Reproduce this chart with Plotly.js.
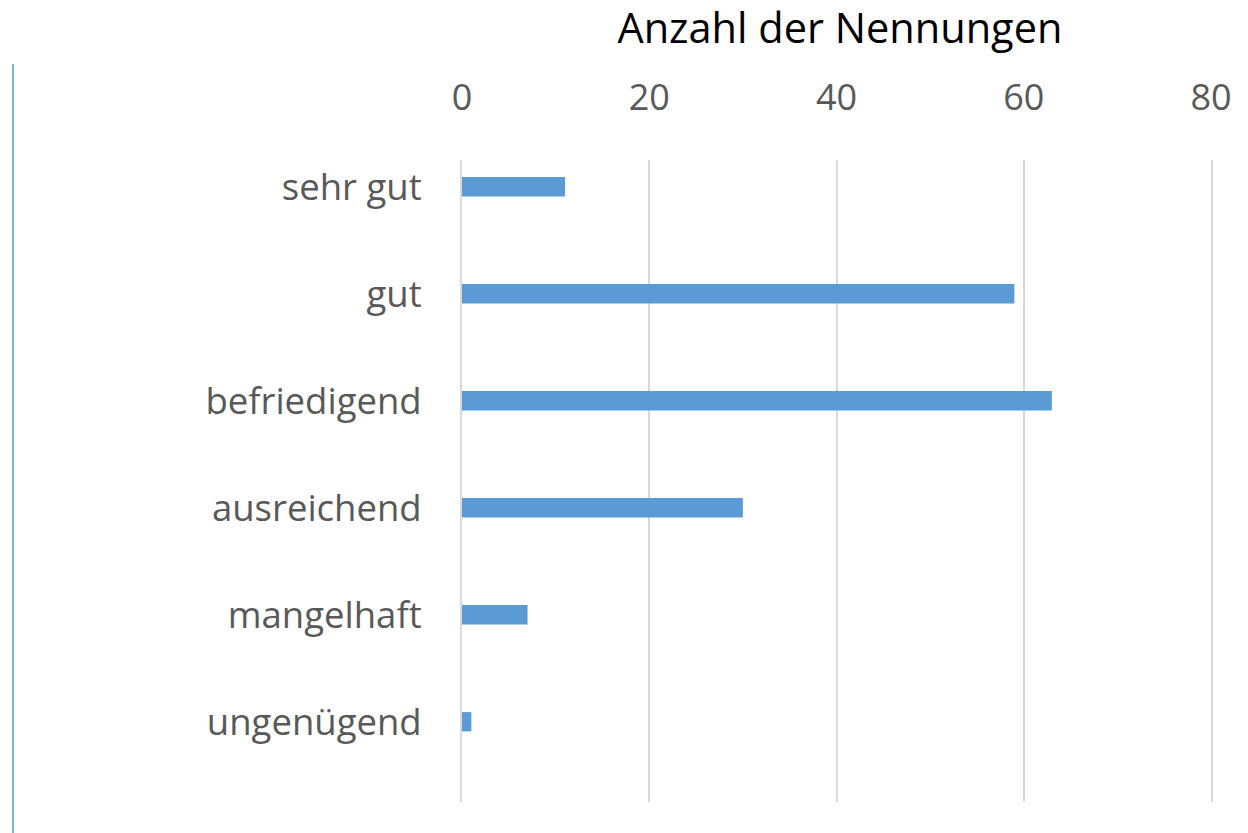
<!DOCTYPE html>
<html>
<head>
<meta charset="utf-8">
<script src="https://cdn.plot.ly/plotly-3.0.1.min.js"></script>
<style>html,body{margin:0;padding:0;background:#fff;}#chart{width:1248px;height:833px;}</style>
</head>
<body>
<div id="chart"></div>
<script>
const categories = ["sehr gut", "gut", "befriedigend", "ausreichend", "mangelhaft", "ungenügend"];
const counts = [11, 59, 63, 30, 7, 1];
const xTicks = [0, 20, 40, 60, 80];
const titleText = "Anzahl der Nennungen";

const FONT = "Open Sans, Liberation Sans, sans-serif";
const TXT = "#595959";

const trace = {
  type: "bar",
  orientation: "h",
  x: counts,
  y: categories,
  width: 0.18,
  marker: {color: "#5B9BD5"},
  hoverinfo: "x+y"
};

const layout = {
  width: 1248,
  height: 833,
  margin: {l: 462, r: 37, t: 160, b: 31, pad: 0},
  paper_bgcolor: "#fff",
  plot_bgcolor: "#fff",
  showlegend: false,
  font: {family: FONT, color: TXT, size: 36},
  title: {
    text: titleText,
    font: {family: FONT, size: 41.5, color: "#000"},
    x: 0.673, xanchor: "center", xref: "container",
    y: 1 - 28/833, yanchor: "middle", yref: "container"
  },
  xaxis: {
    side: "top",
    range: [0, 80],
    tickvals: xTicks,
    ticktext: xTicks.map(String),
    showgrid: true,
    gridcolor: "#d9d9d9",
    gridwidth: 2,
    zeroline: false,
    showline: false,
    ticks: "",
    ticklabelstandoff: 42,
    tickfont: {family: FONT, size: 36, color: TXT},
    fixedrange: true
  },
  yaxis: {
    type: "category",
    range: [5.75, -0.25],
    showgrid: false,
    zeroline: false,
    showline: true,
    mirror: true,
    linecolor: "#d9d9d9",
    linewidth: 2,
    ticks: "",
    ticklabelstandoff: 31,
    tickfont: {family: FONT, size: 36.5, color: TXT},
    fixedrange: true
  },
  shapes: [{
    type: "line",
    xref: "paper", yref: "paper",
    x0: (13 - 462) / 749, x1: (13 - 462) / 749,
    y0: -31 / 642, y1: (802 - 64) / 642,
    line: {color: "#7FAEDF", width: 2}
  }]
};

Plotly.newPlot("chart", [trace], layout, {displayModeBar: false, staticPlot: true});
</script>
</body>
</html>
